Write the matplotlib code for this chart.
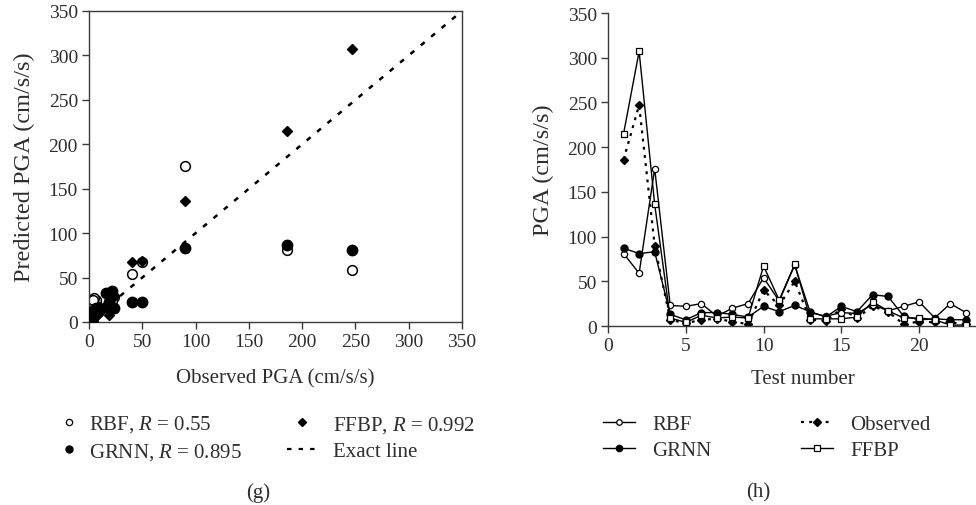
import numpy as np
import matplotlib.pyplot as plt
from matplotlib.lines import Line2D

plt.rcParams['font.family'] = ['Liberation Serif', 'DejaVu Serif']
plt.rcParams['mathtext.fontset'] = 'custom'
plt.rcParams['mathtext.rm'] = 'Liberation Serif'
plt.rcParams['mathtext.it'] = 'Liberation Serif:italic'

# test data; panel (g) plots the same values against observed
tests = list(range(1, 24))
observed = [186, 247, 90, 7, 3, 7, 8, 5, 2, 40, 23, 50, 7, 6, 19, 9, 22, 16, 2, 5, 4, 4, 2]
rbf = [81, 59, 176, 23, 22, 25, 11, 20, 25, 54, 28, 68, 15, 11, 15, 14, 24, 17, 22, 27, 9, 25, 15]
grnn = [87, 81, 83, 13, 7, 15, 15, 13, 10, 22, 16, 23, 16, 10, 22, 16, 35, 33, 11, 7, 8, 7, 7]
ffbp = [215, 307, 136, 9, 4, 12, 9, 10, 9, 67, 29, 69, 8, 8, 8, 10, 27, 17, 9, 9, 7, 1, 1]

r_rbf, r_grnn, r_ffbp = 0.55, 0.895, 0.992
pga_ticks = [0, 50, 100, 150, 200, 250, 300, 350]
test_ticks = [0, 5, 10, 15, 20]

TXT = '#2e2e2e'
SP = '#3a3a3a'
FS_TICK = 14
FS_XLAB = 15
FS_YLAB = 17.5
FS_LEG = 15

W, H = 976, 506
fig = plt.figure(figsize=(W / 100, H / 100), dpi=100)

def px_axes(x0, x1, ytop, ybot):
    return fig.add_axes([x0 / W, 1 - ybot / H, (x1 - x0) / W, (ybot - ytop) / H])

def style(ax):
    ax.tick_params(direction='out', length=5, width=1, colors=SP, labelcolor=TXT,
                   labelsize=FS_TICK, pad=3)
    for s in ax.spines.values():
        s.set_color(SP)
        s.set_linewidth(1)

# ---- (g) scatter ----
ax1 = px_axes(89, 462, 12, 323)
ax1.plot([0, 350], [0, 350], color='black', lw=1.8, ls=(0, (2, 3.4)), zorder=1)
ax1.plot(observed, rbf, 'o', ms=7, mfc='white', mec='black', mew=1.1, ls='none', zorder=2)
ax1.plot(observed, grnn, 'o', ms=7.5, mfc='black', mec='black', ls='none', zorder=3)
ax1.plot(observed, ffbp, 'D', ms=5.5, mfc='black', mec='black', ls='none', zorder=4)
ax1.set_xlim(0, 350)
ax1.set_ylim(0, 350)
ax1.set_xticks(pga_ticks)
ax1.set_yticks(pga_ticks)
style(ax1)
ax1.set_xlabel('Observed PGA (cm/s/s)', fontsize=FS_XLAB, color=TXT)
ax1.set_ylabel('Predicted PGA (cm/s/s)', fontsize=FS_YLAB, color=TXT)
ax1.xaxis.set_label_coords(0.5, -0.15)
ax1.yaxis.set_label_coords(-0.145, 0.5)

# ---- (h) line chart ----
ax2 = px_axes(608, 997, 14, 327)
ax2.plot(tests, rbf, '-o', color='black', lw=1, ms=4.5, mfc='white', mew=0.9, zorder=3)
ax2.plot(tests, grnn, '-o', color='black', lw=1, ms=5, mfc='black', zorder=3)
ax2.plot(tests, observed, 'D', color='black', ls=(0, (1.3, 2.4)), lw=1.6, ms=4.5, zorder=2)
ax2.plot(tests, ffbp, '-s', color='black', lw=1, ms=4.5, mfc='white', mew=0.9, zorder=4)
ax2.set_xlim(0, 25)
ax2.set_ylim(0, 350)
ax2.set_xticks(test_ticks)
ax2.set_yticks(pga_ticks)
ax2.spines['top'].set_visible(False)
ax2.spines['right'].set_visible(False)
style(ax2)
ax2.set_xlabel('Test number', fontsize=FS_XLAB, color=TXT)
ax2.set_ylabel('PGA (cm/s/s)', fontsize=FS_YLAB, color=TXT)
ax2.xaxis.set_label_coords(0.5, -0.137)
ax2.yaxis.set_label_coords(-0.139, 0.5)

# ---- legends ----
leg_kw = dict(frameon=False, fontsize=FS_LEG, borderpad=0, borderaxespad=0,
              labelspacing=0.3, loc='center left', labelcolor=TXT)
ly = 1 - 438.5 / H

h_rbf = Line2D([], [], ls='none', marker='o', ms=4.5, mfc='white', mec='black', mew=0.9)
h_grnn = Line2D([], [], ls='none', marker='o', ms=5, mfc='black', mec='black')
h_ffbp = Line2D([], [], ls='none', marker='D', ms=4, mfc='black', mec='black')
h_exact = Line2D([], [], color='black', lw=1.6, ls=(0, (2, 3.2)))
fig.legend([h_rbf, h_grnn],
           [f'RBF, $R$ = {r_rbf}', f'GRNN, $R$ = {r_grnn}'],
           bbox_to_anchor=(62 / W, ly), handlelength=0.7, handletextpad=0.6, **leg_kw)
fig.legend([h_ffbp, h_exact],
           [f'FFBP, $R$ = {r_ffbp}', 'Exact line'],
           bbox_to_anchor=(287 / W, ly), handlelength=1.4, handletextpad=0.8, **leg_kw)

l_rbf = Line2D([], [], color='black', lw=1, marker='o', ms=4, mfc='white', mew=0.9)
l_grnn = Line2D([], [], color='black', lw=1, marker='o', ms=4.5, mfc='black')
l_obs = Line2D([], [], color='black', lw=1.6, ls=(0, (1.3, 2.4)), marker='D', ms=4)
l_ffbp = Line2D([], [], color='black', lw=1, marker='s', ms=4, mfc='white', mew=0.9)
fig.legend([l_rbf, l_grnn], ['RBF', 'GRNN'],
           bbox_to_anchor=(603 / W, ly), handlelength=1.55, handletextpad=0.8, **leg_kw)
fig.legend([l_obs, l_ffbp], ['Observed', 'FFBP'],
           bbox_to_anchor=(801 / W, ly), handlelength=1.55, handletextpad=0.8, **leg_kw)

fig.text(258 / W, 1 - 493 / H, '(g)', ha='center', va='center', fontsize=FS_LEG, color=TXT)
fig.text(758 / W, 1 - 493 / H, '(h)', ha='center', va='center', fontsize=FS_LEG, color=TXT)

fig.savefig('out.png', dpi=100)
